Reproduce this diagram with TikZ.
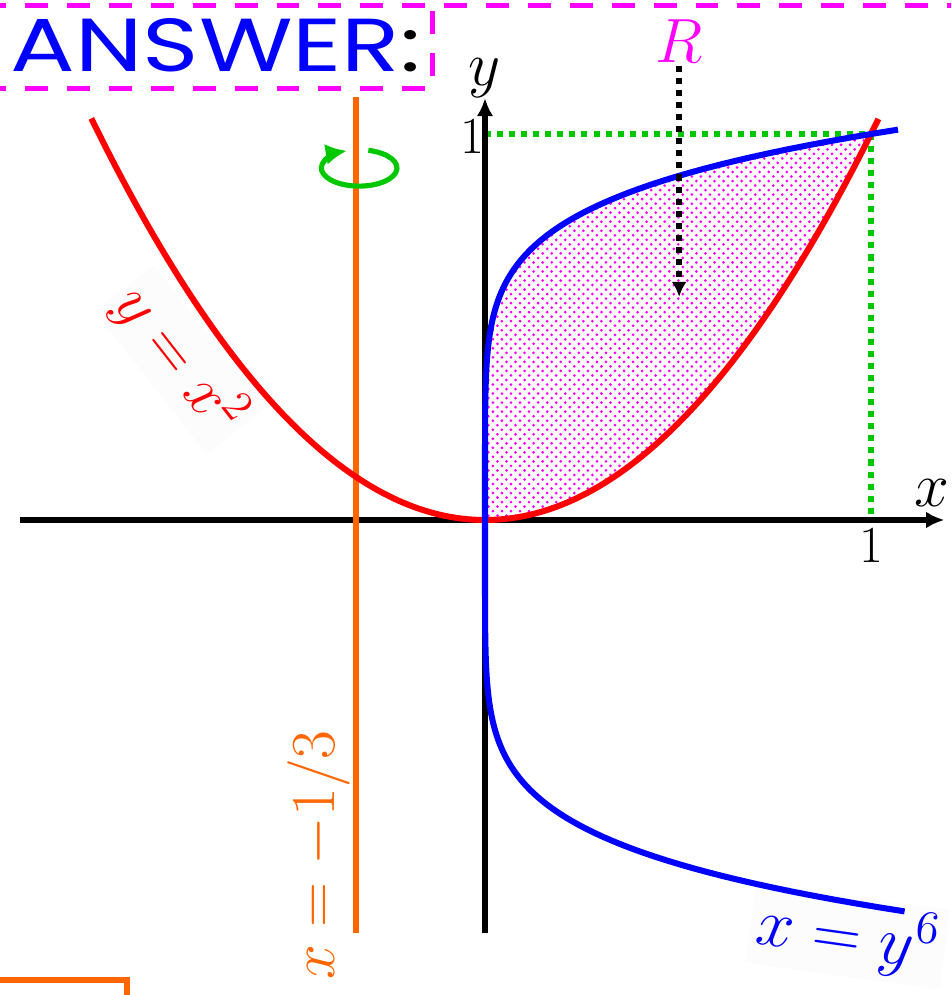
\documentclass[tikz,border=0pt]{standalone}
\usepackage{fontspec}
\usepackage{graphicx}
\usepackage{tikz}
\usetikzlibrary{arrows.meta,patterns,positioning}
\newfontfamily\ansfont{Poppins}
\definecolor{rvorange}{HTML}{FF6600}
\definecolor{rvgreen}{HTML}{00C800}
\definecolor{rvmag}{RGB}{255,0,255}
\definecolor{rvred}{RGB}{255,0,0}
\definecolor{rvblue}{RGB}{0,0,255}

\begin{document}
\begin{tikzpicture}[
  x=4.5cm, y=4.5cm,
  curve/.style={line width=2pt},
  axis/.style={line width=2pt, -{Latex[length=6pt,width=5.5pt]}},
  guide/.style={line width=2pt, dotted, rvgreen},
  frame/.style={line width=1.7pt, rvmag, dash pattern=on 7.6pt off 6.3pt},
  lbl/.style={font=\huge, fill=black!1, inner sep=2pt},
  ticklbl/.style={font=\LARGE, inner sep=0pt},
  rot/.style={line width=1.7pt, rvgreen, -{Latex[length=7pt,width=7pt]}},
  pointer/.style={line width=2pt, dotted, -{Latex[length=5pt,width=5pt]}},
]
\useasboundingbox (-1.2565,-1.2306) rectangle (1.2073,1.3472);
\clip (-1.2565,-1.2306) rectangle (1.2073,1.3472);

% ---- header box ----
\node[anchor=south west, inner sep=0pt] (ans) at (-1.2306,1.158)
  {\resizebox{4.78cm}{0.618cm}{\ansfont\textcolor{rvblue}{ANSWER}:}};
\coordinate (boxne) at (-0.137,1.334);
\draw[frame] (-1.3,1.334) -- (1.25,1.334);
\draw[frame] (-1.3,1.119) -| (boxne);
\draw[rvorange, line width=1.8pt] (-1.35,-1.192) rectangle (-0.927,-1.4);

% ---- the region R ----
\fill[pattern=crosshatch dots, pattern color=rvmag]
  plot[domain=0:1, samples=120, variable=\t] ({\t*\t*\t*\t*\t*\t},\t)
  -- plot[domain=1:0, samples=120] (\x,{\x*\x}) -- cycle;

% ---- guides to (1,1) ----
\coordinate (one) at (1,1);
\draw[guide] (0,1) -- (one) -- (1,0);

% ---- axes ----
\coordinate (xend) at (1.19,0);
\coordinate (yend) at (0,1.093);
\draw[axis] (-1.205,0) -- (xend);
\draw[axis] (0,-1.07) -- (yend);
\node[font=\huge, anchor=base, inner sep=0pt] (xlab) at (1.158,0.034) {$x$};
\node[font=\huge, anchor=south, inner sep=0pt] (ylab) at (yend) {$y$};
\node[ticklbl, anchor=north] (xone) at (1,-0.02) {1};
\node[ticklbl, anchor=east] (yone) at (0,0.995) {1};

% ---- curve labels (under the curves) ----
\node[lbl, text=rvred, rotate=-52] (parab) at (-0.79,0.415) {$y=x^2$};
\node[lbl, text=rvblue, rotate=-8, scale=1.08] (sext) at (0.94,-1.078) {$x=y^6$};
\node[lbl, text=rvorange, rotate=90, fill=none] (vline) at (-0.43,-0.868) {$x=-1/3$};

% ---- axis of rotation ----
\draw[rvorange, line width=2pt] (-1/3,-1.07) -- (-1/3,1.096);
\coordinate (rc) at (-0.326,0.912);
\draw[rot] ([shift={(76:0.441cm and 0.2115cm)}]rc)
  arc[start angle=76, end angle=-251, x radius=0.441cm, y radius=0.2115cm];

% ---- curves ----
\draw[curve, rvred] plot[domain=-1.02:1.02, samples=150] (\x,{\x*\x});
\draw[curve, rvblue] plot[domain=-1.014:1.014, samples=200, variable=\t] ({\t*\t*\t*\t*\t*\t},\t);

% ---- pointer to R ----
\node[font=\huge, text=rvmag, inner sep=1pt] (rlab) at (0.503,1.241) {$R$};
\coordinate (rtip) at (0.503,0.578);
\draw[pointer] (rlab.south) -- (rtip);
\end{tikzpicture}
\end{document}
